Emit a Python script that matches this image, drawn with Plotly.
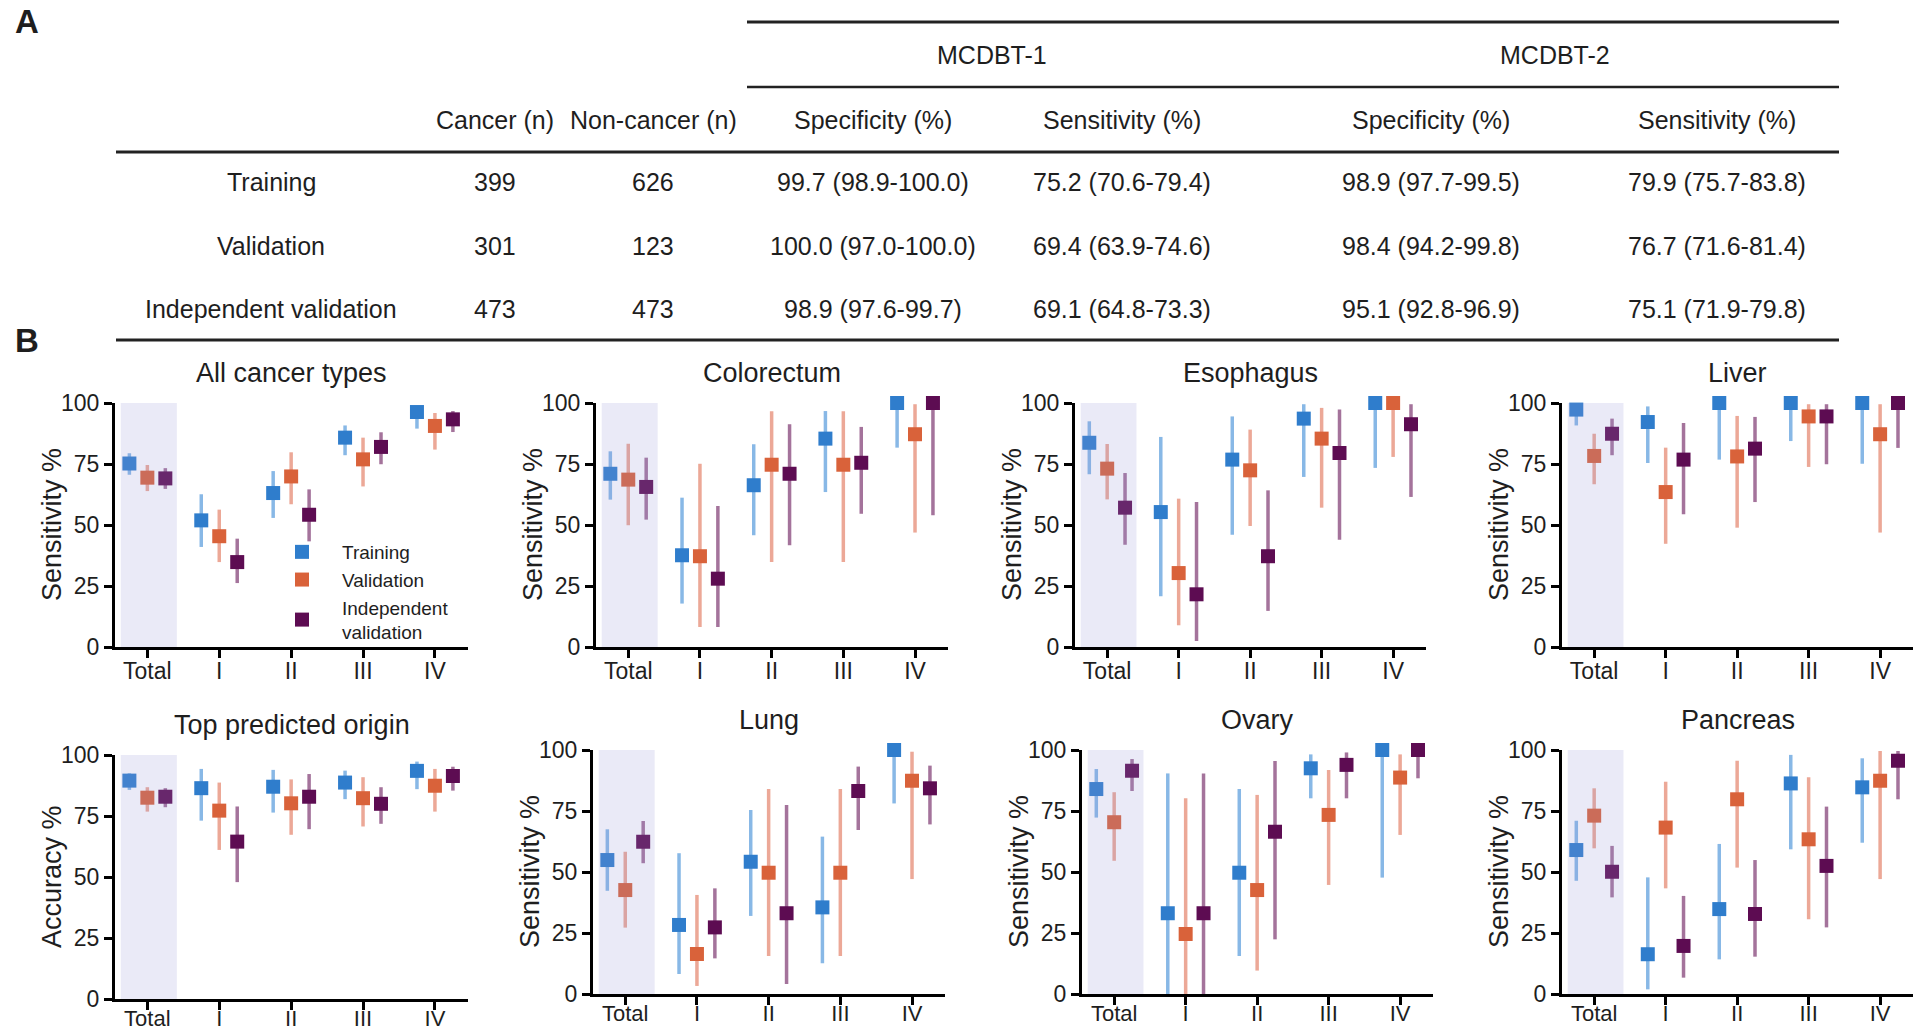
import plotly.graph_objects as go

W, H = 1920, 1033
FONT = "Liberation Sans, Arial, Helvetica, sans-serif"
TXT = "#1e1e1e"

# ---------------- Table (panel A) ----------------
table_rows = ["Training", "Validation", "Independent validation"]
cancer_n = [399, 301, 473]
noncancer_n = [626, 123, 473]
mcdbt1_spec = ["99.7 (98.9-100.0)", "100.0 (97.0-100.0)", "98.9 (97.6-99.7)"]
mcdbt1_sens = ["75.2 (70.6-79.4)", "69.4 (63.9-74.6)", "69.1 (64.8-73.3)"]
mcdbt2_spec = ["98.9 (97.7-99.5)", "98.4 (94.2-99.8)", "95.1 (92.8-96.9)"]
mcdbt2_sens = ["79.9 (75.7-83.8)", "76.7 (71.6-81.4)", "75.1 (71.9-79.8)"]
table_headers = ["Cancer (n)", "Non-cancer (n)", "Specificity (%)", "Sensitivity (%)",
                 "Specificity (%)", "Sensitivity (%)"]
model_names = ["MCDBT-1", "MCDBT-2"]

# ---------------- Panel B data ----------------
stages = ["Total", "I", "II", "III", "IV"]
series_names = ["Training", "Validation", "Independent<br>validation"]

all_train = [75.2, 51.9, 63.1, 85.8, 96.3]
all_train_lo = [70.6, 41.0, 52.9, 78.6, 89.5]
all_train_hi = [79.4, 62.6, 72.1, 90.8, 98.6]
all_valid = [69.4, 45.4, 69.9, 76.9, 90.6]
all_valid_lo = [63.9, 34.8, 58.5, 65.8, 80.9]
all_valid_hi = [74.6, 56.3, 79.8, 85.8, 95.9]
all_indep = [69.1, 34.8, 54.2, 82.0, 93.3]
all_indep_lo = [64.8, 26.2, 43.3, 74.9, 88.1]
all_indep_hi = [73.3, 44.4, 64.6, 88.0, 96.7]

crc_train = [71.0, 37.6, 66.3, 85.4, 100.0]
crc_train_lo = [60.4, 17.8, 45.8, 63.5, 81.7]
crc_train_hi = [80.2, 61.2, 83.1, 96.7, 100.0]
crc_valid = [68.6, 37.2, 74.7, 74.7, 87.2]
crc_valid_lo = [49.9, 8.2, 34.8, 34.8, 46.9]
crc_valid_hi = [83.3, 75.1, 96.6, 96.6, 99.5]
crc_indep = [65.6, 28.0, 71.0, 75.5, 100.0]
crc_indep_lo = [52.2, 8.2, 41.7, 54.6, 54.0]
crc_indep_hi = [77.6, 57.8, 91.3, 90.2, 100.0]

eso_train = [83.7, 55.3, 76.8, 93.6, 100.0]
eso_train_lo = [70.8, 20.8, 46.0, 69.7, 73.4]
eso_train_hi = [92.5, 86.1, 94.5, 99.5, 100.0]
eso_valid = [73.1, 30.3, 72.4, 85.4, 100.0]
eso_valid_lo = [60.5, 8.9, 49.6, 57.1, 77.9]
eso_valid_hi = [83.2, 60.8, 89.1, 98.0, 100.0]
eso_indep = [57.1, 21.6, 37.2, 79.5, 91.3]
eso_indep_lo = [41.9, 2.5, 14.8, 44.0, 61.5]
eso_indep_hi = [71.3, 59.4, 64.2, 97.3, 99.5]

liver_train = [97.3, 92.2, 100.0, 100.0, 100.0]
liver_train_lo = [90.8, 75.4, 76.8, 84.4, 75.1]
liver_train_hi = [99.5, 98.6, 100.0, 100.0, 100.0]
liver_valid = [78.3, 63.5, 78.1, 94.5, 87.2]
liver_valid_lo = [66.7, 42.3, 48.9, 73.8, 46.9]
liver_valid_hi = [87.4, 81.7, 94.7, 99.5, 99.5]
liver_indep = [87.4, 76.8, 81.3, 94.5, 100.0]
liver_indep_lo = [78.6, 54.4, 59.4, 74.9, 81.6]
liver_indep_hi = [93.6, 91.8, 94.3, 99.5, 100.0]

origin_train = [89.5, 86.4, 87.0, 88.7, 93.5]
origin_train_lo = [85.7, 73.1, 76.4, 81.9, 86.0]
origin_train_hi = [92.5, 94.3, 93.9, 93.6, 97.3]
origin_valid = [82.5, 77.2, 80.2, 82.3, 87.4]
origin_valid_lo = [76.8, 61.1, 67.3, 70.7, 76.8]
origin_valid_hi = [86.8, 88.7, 90.0, 90.9, 94.3]
origin_indep = [82.9, 64.5, 82.9, 80.0, 91.4]
origin_indep_lo = [78.6, 47.9, 69.6, 71.8, 85.4]
origin_indep_hi = [86.4, 78.9, 92.2, 86.8, 95.2]

lung_train = [54.9, 28.3, 54.2, 35.5, 100.0]
lung_train_lo = [42.3, 8.2, 32.0, 12.6, 78.1]
lung_train_hi = [67.5, 57.7, 75.4, 64.5, 100.0]
lung_valid = [42.6, 16.4, 49.7, 49.7, 87.4]
lung_valid_lo = [27.2, 3.3, 15.6, 15.6, 47.1]
lung_valid_hi = [58.3, 40.6, 84.0, 84.0, 99.3]
lung_indep = [62.4, 27.3, 33.1, 83.2, 84.3]
lung_indep_lo = [53.6, 14.6, 4.1, 67.2, 69.5]
lung_indep_hi = [70.9, 43.3, 77.5, 93.2, 93.6]

ovary_train = [84.0, 33.1, 49.7, 92.5, 100.0]
ovary_train_lo = [72.3, 0.0, 15.6, 80.2, 47.7]
ovary_train_hi = [92.2, 90.4, 84.0, 98.2, 100.0]
ovary_valid = [70.4, 24.6, 42.6, 73.4, 88.7]
ovary_valid_lo = [54.6, 0.0, 9.6, 44.7, 65.2]
ovary_valid_hi = [82.7, 80.2, 81.6, 91.8, 98.2]
ovary_indep = [91.5, 33.1, 66.5, 93.9, 100.0]
ovary_indep_lo = [83.2, 0.0, 22.4, 80.2, 88.4]
ovary_indep_hi = [96.3, 90.4, 95.5, 99.0, 100.0]

panc_train = [59.0, 16.3, 34.8, 86.3, 84.7]
panc_train_lo = [46.4, 1.9, 14.2, 59.3, 62.0]
panc_train_hi = [71.0, 47.8, 61.5, 98.0, 96.6]
panc_valid = [73.1, 68.2, 79.8, 63.4, 87.4]
panc_valid_lo = [59.7, 43.3, 51.8, 30.6, 47.1]
panc_valid_hi = [84.3, 87.0, 95.6, 88.8, 99.6]
panc_indep = [50.1, 19.7, 32.8, 52.5, 95.6]
panc_indep_lo = [39.6, 6.7, 15.3, 27.3, 79.8]
panc_indep_hi = [60.7, 40.2, 54.9, 76.8, 99.6]

panels = [
    ("All cancer types", "Sensitivity %",
     [(all_train, all_train_lo, all_train_hi), (all_valid, all_valid_lo, all_valid_hi),
      (all_indep, all_indep_lo, all_indep_hi)]),
    ("Colorectum", "Sensitivity %",
     [(crc_train, crc_train_lo, crc_train_hi), (crc_valid, crc_valid_lo, crc_valid_hi),
      (crc_indep, crc_indep_lo, crc_indep_hi)]),
    ("Esophagus", "Sensitivity %",
     [(eso_train, eso_train_lo, eso_train_hi), (eso_valid, eso_valid_lo, eso_valid_hi),
      (eso_indep, eso_indep_lo, eso_indep_hi)]),
    ("Liver", "Sensitivity %",
     [(liver_train, liver_train_lo, liver_train_hi), (liver_valid, liver_valid_lo, liver_valid_hi),
      (liver_indep, liver_indep_lo, liver_indep_hi)]),
    ("Top predicted origin", "Accuracy %",
     [(origin_train, origin_train_lo, origin_train_hi), (origin_valid, origin_valid_lo, origin_valid_hi),
      (origin_indep, origin_indep_lo, origin_indep_hi)]),
    ("Lung", "Sensitivity %",
     [(lung_train, lung_train_lo, lung_train_hi), (lung_valid, lung_valid_lo, lung_valid_hi),
      (lung_indep, lung_indep_lo, lung_indep_hi)]),
    ("Ovary", "Sensitivity %",
     [(ovary_train, ovary_train_lo, ovary_train_hi), (ovary_valid, ovary_valid_lo, ovary_valid_hi),
      (ovary_indep, ovary_indep_lo, ovary_indep_hi)]),
    ("Pancreas", "Sensitivity %",
     [(panc_train, panc_train_lo, panc_train_hi), (panc_valid, panc_valid_lo, panc_valid_hi),
      (panc_indep, panc_indep_lo, panc_indep_hi)]),
]

# ---------------- Styling / layout ----------------
series_colors = ["#2F7DCC", "#D9623A", "#5D0C52"]
bar_colors = ["#88B8E6", "#ECA897", "#A4739B"]
series_offsets = [-0.25, 0.0, 0.25]

# (left, right, top, bottom) of each plot area in pixels
panel_px = [
    (115, 468, 403, 647), (596, 948, 403, 647), (1075, 1426, 403, 647), (1562, 1913, 403, 647),
    (115, 468, 755, 999), (593, 945, 750, 994), (1082, 1433, 750, 994), (1562, 1913, 750, 994),
]


def px(xp):
    return xp / W


def py(yp):
    return 1 - yp / H


fig = go.Figure()
shapes = []
annotations = []

for k, ((title, ytitle, series), (xl, xr, yt, yb)) in enumerate(zip(panels, panel_px), start=1):
    xa = "x" if k == 1 else f"x{k}"
    ya = "y" if k == 1 else f"y{k}"
    bottom_row = k > 4
    for s, (vals, lo, hi) in enumerate(series):
        fig.add_trace(go.Scatter(
            x=[i + series_offsets[s] for i in range(len(stages))],
            y=vals,
            mode="markers",
            marker=dict(symbol="square", size=14, color=series_colors[s], line=dict(width=0)),
            error_y=dict(type="data", symmetric=False,
                         array=[h - v for v, h in zip(vals, hi)],
                         arrayminus=[v - l for v, l in zip(vals, lo)],
                         thickness=3.5, width=0, color=bar_colors[s]),
            name=series_names[s], legendgroup=str(s), showlegend=(k == 1),
            cliponaxis=False, xaxis=xa, yaxis=ya,
        ))
    xname = "xaxis" if k == 1 else f"xaxis{k}"
    yname = "yaxis" if k == 1 else f"yaxis{k}"
    fig.update_layout(**{
        xname: dict(domain=[px(xl), px(xr)], anchor=ya, range=[-0.45, 4.46], automargin=False,
                    tickmode="array", tickvals=list(range(len(stages))), ticktext=stages,
                    showline=True, linecolor="black", linewidth=3, mirror=False,
                    ticks="outside", ticklen=8, tickwidth=3, tickcolor="black",
                    ticklabelstandoff=(-10 if bottom_row else -7),
                    showgrid=False, zeroline=False,
                    tickfont=dict(family=FONT, size=(22 if bottom_row else 23), color=TXT),
                    fixedrange=True),
        yname: dict(domain=[py(yb), py(yt)], anchor=xa, range=[0, 100], automargin=False,
                    tickmode="array", tickvals=[0, 25, 50, 75, 100],
                    showline=True, linecolor="black", linewidth=3,
                    ticks="outside", ticklen=8, tickwidth=3, tickcolor="black",
                    showgrid=False, zeroline=False,
                    tickfont=dict(family=FONT, size=23, color=TXT), fixedrange=True),
    })
    # shaded "Total" column (drawn above, semi-transparent, as in the figure)
    shapes.append(dict(type="rect", xref=xa, yref=ya, x0=-0.37, x1=0.41, y0=0, y1=100,
                       fillcolor="rgba(150,150,215,0.2)", line=dict(width=0), layer="above"))
    annotations.append(dict(text=title, x=px((xl + xr) / 2), y=py(yt - 30), xref="paper", yref="paper",
                            xanchor="center", yanchor="middle", showarrow=False,
                            font=dict(family=FONT, size=27, color=TXT)))
    annotations.append(dict(text=ytitle, x=px(xl - 63), y=py((yt + yb) / 2), xref="paper", yref="paper",
                            xanchor="center", yanchor="middle", showarrow=False, textangle=-90,
                            font=dict(family=FONT, size=27, color=TXT)))

# ---------------- Table drawing ----------------
TFS = 25


def tline(x0, x1, y, w):
    shapes.append(dict(type="line", xref="paper", yref="paper", x0=px(x0), x1=px(x1),
                       y0=py(y), y1=py(y), line=dict(color="#222222", width=w)))


tline(747, 1839, 22, 3)
tline(747, 1839, 87, 2.5)
tline(116, 1839, 152, 3)
tline(116, 1839, 340, 3)


def ttext(t, x, y, size=TFS, bold=False):
    annotations.append(dict(text=f"<b>{t}</b>" if bold else t, x=px(x), y=py(y), xref="paper", yref="paper",
                            xanchor="center", yanchor="middle", showarrow=False,
                            font=dict(family=FONT, size=size, color=TXT)))


ttext(model_names[0], 992, 55)
ttext(model_names[1], 1555, 55)
col_x = [495, 653, 873, 1122, 1431, 1717]
for h, cx in zip(table_headers, col_x):
    ttext(h, cx, 120)
row_y = [182, 246, 309]
for r, ry in enumerate(row_y):
    ttext(table_rows[r], 271, ry)
    cells = [str(cancer_n[r]), str(noncancer_n[r]), mcdbt1_spec[r], mcdbt1_sens[r], mcdbt2_spec[r], mcdbt2_sens[r]]
    for c, cx in zip(cells, col_x):
        ttext(c, cx, ry)

ttext("A", 27, 22, size=33, bold=True)
ttext("B", 27, 340, size=33, bold=True)

fig.update_layout(
    template="none",
    width=W, height=H, autosize=False,
    margin=dict(l=0, r=0, t=0, b=0, pad=0),
    paper_bgcolor="white", plot_bgcolor="white",
    font=dict(family=FONT, color=TXT),
    shapes=shapes, annotations=annotations,
    showlegend=True,
    legend=dict(x=px(262), y=py(533), xanchor="left", yanchor="top",
                bgcolor="rgba(0,0,0,0)", borderwidth=0, itemwidth=70,
                font=dict(family=FONT, size=19, color=TXT), valign="middle",
                tracegroupgap=0, itemclick=False, itemdoubleclick=False),
)

fig.write_html("out.html", config={"displayModeBar": False},
               post_script="document.body.style.margin='0';document.body.style.overflow='hidden';")
